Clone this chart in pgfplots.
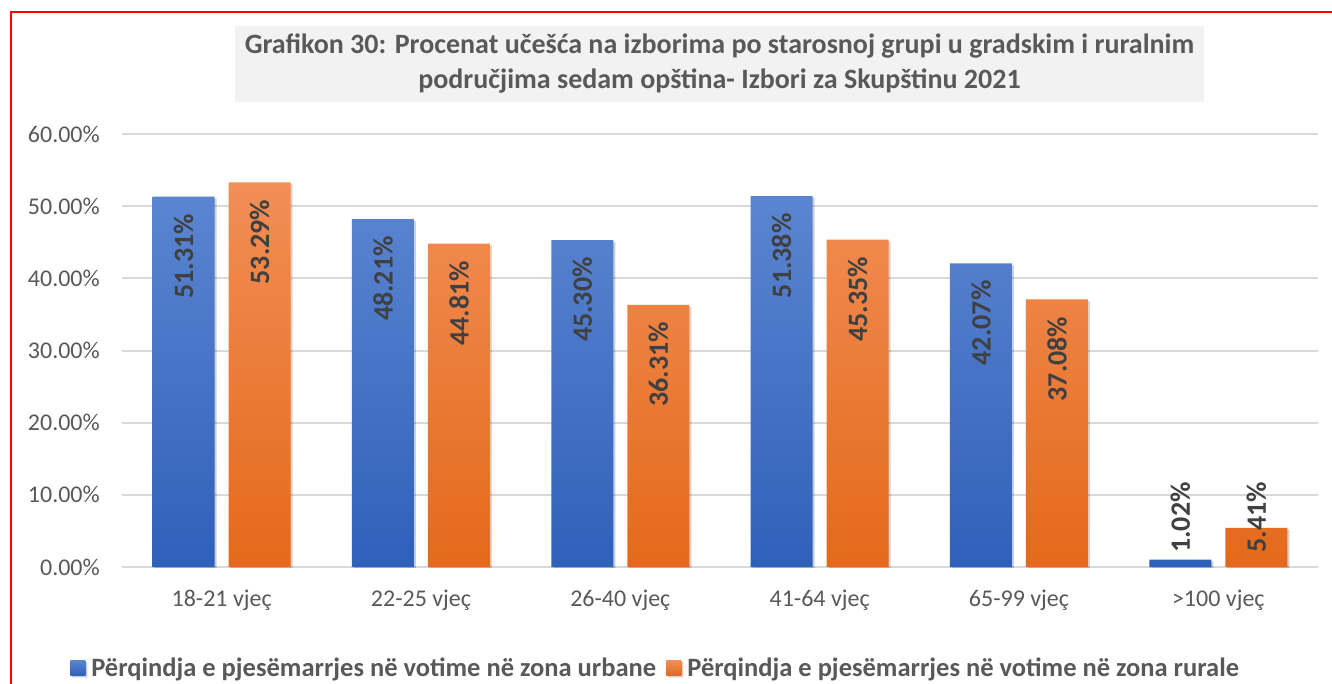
\documentclass[border=0pt]{standalone}
\usepackage{pgfplots}
\pgfplotsset{compat=1.18}
\usepackage{pgfplotstable}
\usetikzlibrary{shadows}
\usepackage{fontspec}
\setmainfont{Carlito}
\definecolor{blueTop}{HTML}{5B85D0}
\definecolor{blueBot}{HTML}{2F60BA}
\definecolor{orTop}{HTML}{F28E56}
\definecolor{orBot}{HTML}{E4691A}
\definecolor{gridgray}{HTML}{D9D9D9}
\definecolor{txtgray}{HTML}{595959}
\definecolor{labgray}{HTML}{404040}
\definecolor{titlebg}{HTML}{F2F2F2}
\pgfplotstableread{
x u r us rs
0 51.31 53.29 -17 -17
1 48.21 44.81 -17 -17
2 45.30 36.31 -17 -17
3 51.38 45.35 -17 -17
4 42.07 37.08 -17 -17
5 1.02 5.41 77.6 46
}\datatable
\begin{document}
\begin{tikzpicture}
\useasboundingbox (0,0) rectangle (1332pt,683pt);
\fill[white] (0,0) rectangle (1332pt,683pt);
\draw[red,line width=2pt] (11pt,-3pt) -- (11pt,671pt) -- (1336pt,671pt);
\fill[titlebg] (235pt,581pt) rectangle (1204pt,657pt);
\node[align=center, text=txtgray, font=\bfseries\fontsize{28}{35}\selectfont] at (719.5pt,619pt)
 {Grafikon 30: Procenat učešća na izborima po starosnoj grupi u gradskim i ruralnim\\područjima sedam opština- Izbori za Skupštinu 2021};
\begin{axis}[
  at={(122pt,116pt)}, anchor=south west, scale only axis,
  width=1196pt, height=433pt,
  xmin=-0.5, xmax=5.5, ymin=0, ymax=60,
  ytick={0,10,...,60},
  yticklabels={0.00\%,10.00\%,20.00\%,30.00\%,40.00\%,50.00\%,60.00\%},
  xtick={0,...,5},
  xticklabels={18-21 vjeç,22-25 vjeç,26-40 vjeç,41-64 vjeç,65-99 vjeç,>100 vjeç},
  /pgf/number format/assume math mode=true,
  yticklabel style={font=\fontsize{24}{28}\selectfont, text=txtgray, inner sep=0pt, anchor=east, xshift=-22pt},
  xticklabel style={font=\fontsize{24}{28}\selectfont, text=txtgray, inner sep=0pt, anchor=base, yshift=-39pt},
  axis line style={draw=none},
  tick style={draw=none},
  ymajorgrids,
  grid style={draw=gridgray, line width=2pt},
  legend style={at={(axis description cs:0.448,-0.233)}, anchor=center, draw=none, fill=none,
    legend columns=2, font=\bfseries\fontsize{26.5}{30}\selectfont, text=txtgray,
    nodes={inner xsep=6pt, inner ysep=2pt},
    /tikz/every even column/.append style={column sep=4pt}},
  nodes near coords={\pgfmathprintnumber[fixed,fixed zerofill,precision=2]{\pgfplotspointmeta}\%},
  point meta=y,
]
\addplot[ybar, bar width=62pt, bar shift=-38pt, draw=none, top color=blueTop, bottom color=blueBot,
  drop shadow={shadow xshift=2pt, shadow yshift=-2pt, opacity=0.13, fill=black},
  visualization depends on={\thisrow{us} \as \lshift},
  every node near coord/.append style={xshift=-38pt, yshift=\lshift pt, rotate=90, anchor=east, inner sep=0pt,
     font=\bfseries\fontsize{28}{32}\selectfont, text=labgray},
  legend image code/.code={\shade[top color=blueTop,bottom color=blueBot] (0pt,-7.5pt) rectangle (15pt,7.5pt);}]
  table[x=x,y=u]{\datatable};
\addlegendentry{Përqindja e pjesëmarrjes në votime në zona urbane}
\addplot[ybar, bar width=62pt, bar shift=38pt, draw=none, top color=orTop, bottom color=orBot,
  drop shadow={shadow xshift=2pt, shadow yshift=-2pt, opacity=0.13, fill=black},
  visualization depends on={\thisrow{rs} \as \lshift},
  every node near coord/.append style={xshift=38pt, yshift=\lshift pt, rotate=90, anchor=east, inner sep=0pt,
     font=\bfseries\fontsize{28}{32}\selectfont, text=labgray},
  legend image code/.code={\shade[top color=orTop,bottom color=orBot] (0pt,-7.5pt) rectangle (15pt,7.5pt);}]
  table[x=x,y=r]{\datatable};
\addlegendentry{Përqindja e pjesëmarrjes në votime në zona rurale}
\end{axis}
\end{tikzpicture}
\end{document}
